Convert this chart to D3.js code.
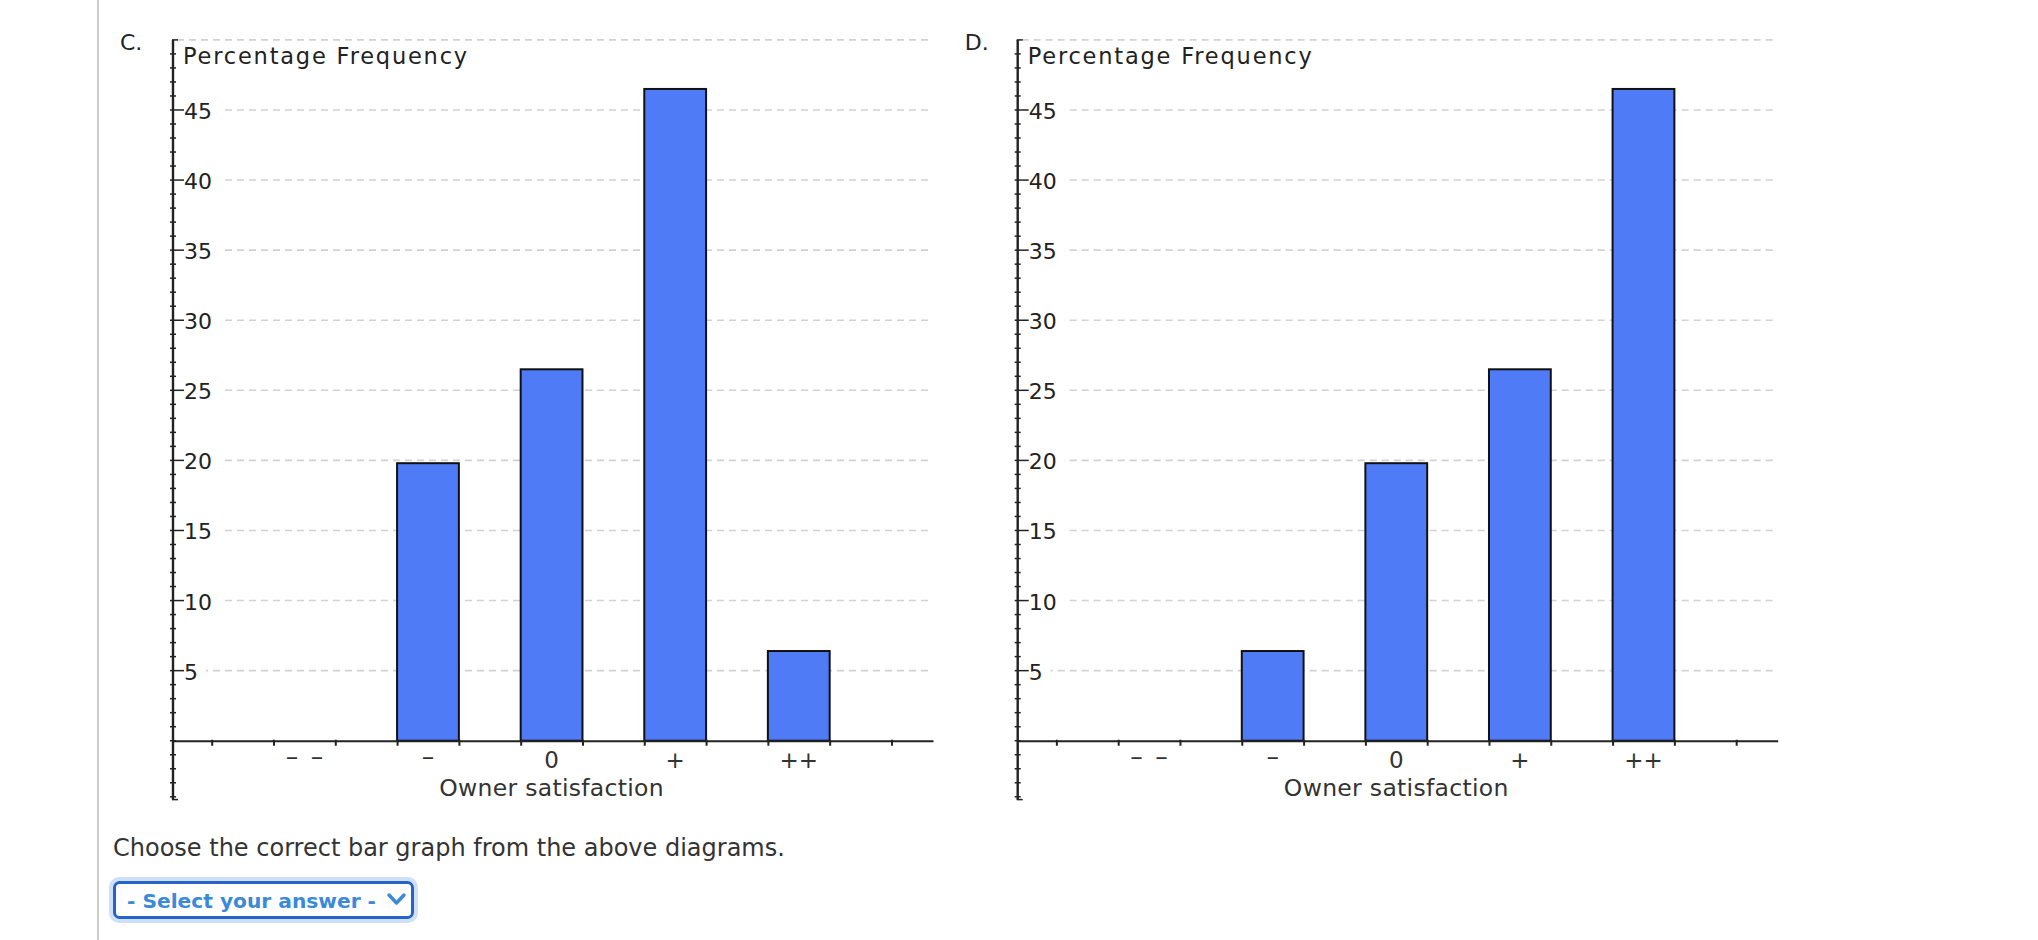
<!DOCTYPE html>
<html>
<head>
<meta charset="utf-8">
<script src="https://cdn.jsdelivr.net/npm/d3@7"></script>
<style>
  html, body { margin: 0; padding: 0; background: #fff; }
  svg { display: block; }
</style>
</head>
<body>
<svg id="chart" width="2038" height="940"></svg>
<script>
// ---- data ----
const categories = ["–\u2002–", "–", "0", "+", "++"];
const valuesC = [0, 19.8, 26.5, 46.5, 6.4];
const valuesD = [0, 6.4, 19.8, 26.5, 46.5];
const yTickLabels = [5, 10, 15, 20, 25, 30, 35, 40, 45];
const panelLetters = ["C.", "D."];
const yTitle = "Percentage Frequency";
const xTitle = "Owner satisfaction";
const questionText = "Choose the correct bar graph from the above diagrams.";
const selectText = "- Select your answer -";

const svg = d3.select("#chart");
const FONT = "'DejaVu Sans', Verdana, sans-serif";

// page left rule
svg.append("line").attr("x1", 98).attr("x2", 98).attr("y1", 0).attr("y2", 940)
  .attr("stroke", "#cccccc").attr("stroke-width", 2);

function drawChart(left, values, letter) {
  const g = svg.append("g");
  const xRight = left + 760;
  const x = d3.scaleLinear().domain([-0.063, 6.086]).range([left, xRight]);
  const y = d3.scaleLinear().domain([-4.2, 50]).range([799.6, 39.9]);
  const y0 = y(0);

  // panel letter
  g.append("text").attr("x", left - 53).attr("y", 49.5)
    .attr("font-family", FONT).attr("font-size", 22).attr("fill", "#222").text(letter);

  // gridlines (dashed), at 5..50
  const gridVals = yTickLabels.concat([50]);
  g.append("g").selectAll("line").data(gridVals).join("line")
    .attr("x1", left + 4).attr("x2", xRight)
    .attr("y1", d => y(d)).attr("y2", d => y(d))
    .attr("stroke", "#d2d2d2").attr("stroke-width", 1.6)
    .attr("stroke-dasharray", "7,5");

  // tick labels with white backgrounds
  const lab = g.append("g");
  yTickLabels.forEach(v => {
    const t = lab.append("text").attr("x", left + 11).attr("y", y(v) + 9)
      .attr("font-family", FONT).attr("font-size", 22).attr("fill", "#222").text(v);
    const bb = t.node().getBBox();
    lab.insert("rect", "text").attr("x", left + 2).attr("y", y(v) - 3)
      .attr("width", bb.x + bb.width - left + 6).attr("height", 6).attr("fill", "#fff");
  });

  // y title
  g.append("text").attr("x", left + 10).attr("y", 63.5)
    .attr("font-family", FONT).attr("font-size", 22.5).attr("letter-spacing", 1.8)
    .attr("fill", "#222").text(yTitle);

  // bars
  g.append("g").selectAll("rect").data(values).join("rect")
    .attr("x", (d, i) => x(i + 1 - 0.25))
    .attr("width", (d, i) => x(i + 1 + 0.25) - x(i + 1 - 0.25))
    .attr("y", d => y(d))
    .attr("height", d => y0 - y(d))
    .attr("fill", "#4f7bf6")
    .attr("stroke", d => d > 0 ? "#111" : "none")
    .attr("stroke-width", 2);

  // x axis
  const xTicks = d3.range(0, 12).map(k => 0.25 + 0.5 * k);
  const xAxis = d3.axisBottom(x).tickValues(xTicks).tickFormat("").tickSize(5).tickSizeOuter(0);
  const xa = g.append("g").attr("transform", `translate(0,${y0})`).call(xAxis);
  xa.select(".domain").attr("stroke", "#222").attr("stroke-width", 2);
  xa.selectAll(".tick line").attr("stroke", "#222").attr("stroke-width", 2).attr("y1", -1);

  // category labels
  g.append("g").selectAll("text").data(categories).join("text")
    .attr("x", (d, i) => x(i + 1))
    .attr("y", d => y0 + 27.5 - (d.includes("–") ? 3 : 0))
    .attr("text-anchor", "middle")
    .attr("font-family", FONT).attr("font-size", d => d.includes("–") ? 25 : 23)
    .attr("fill", "#333")
    .text(d => d);

  // x title
  g.append("text").attr("x", x(3)).attr("y", y0 + 55.5).attr("text-anchor", "middle")
    .attr("font-family", FONT).attr("font-size", 23.5).attr("letter-spacing", 0.3)
    .attr("fill", "#333").text(xTitle);

  // y axis with minor ticks
  const ya = g.append("g");
  const minor = d3.range(-4, 50);
  ya.selectAll("line.minor").data(minor).join("line").attr("class", "minor")
    .attr("x1", left - 3)
    .attr("x2", d => (d % 5 === 0 && d > 0) ? left + 11 : left + 3)
    .attr("y1", d => y(d)).attr("y2", d => y(d))
    .attr("stroke", "#222").attr("stroke-width", 1.5);
  ya.append("line").attr("x1", left).attr("x2", left)
    .attr("y1", y(50)).attr("y2", y(-4.2))
    .attr("stroke", "#222").attr("stroke-width", 2.4);
  // end caps
  [50, -4.2].forEach(v => {
    ya.append("line").attr("x1", left - 1).attr("x2", left + 5)
      .attr("y1", y(v)).attr("y2", y(v)).attr("stroke", "#222").attr("stroke-width", 1.5);
  });
}

drawChart(173, valuesC, panelLetters[0]);
drawChart(1017.7, valuesD, panelLetters[1]);

// question text
svg.append("text").attr("x", 113).attr("y", 856)
  .attr("font-family", FONT).attr("font-size", 24).attr("fill", "#333").text(questionText);

// select control
const sel = svg.append("g");
sel.append("rect").attr("x", 111).attr("y", 879).attr("width", 305).attr("height", 42)
  .attr("rx", 8).attr("fill", "none").attr("stroke", "#cfe0f8").attr("stroke-width", 4);
sel.append("rect").attr("x", 114.5).attr("y", 882.5).attr("width", 298).attr("height", 35)
  .attr("rx", 5).attr("fill", "#fff").attr("stroke", "#2563c9").attr("stroke-width", 3);
sel.append("text").attr("x", 127).attr("y", 908)
  .attr("font-family", FONT).attr("font-size", 20.2).attr("font-weight", "bold")
  .attr("fill", "#3b8ad9").text(selectText);
sel.append("path").attr("d", "M389,895 L396.5,903 L404,895")
  .attr("fill", "none").attr("stroke", "#3b8ad9").attr("stroke-width", 3.5)
  .attr("stroke-linecap", "round").attr("stroke-linejoin", "round");
</script>
</body>
</html>
